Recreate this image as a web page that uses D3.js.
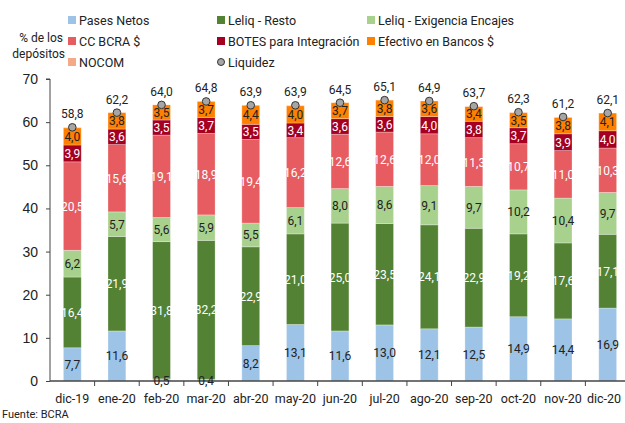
<!DOCTYPE html>
<html>
<head>
<meta charset="utf-8">
<script src="https://cdn.jsdelivr.net/npm/d3@7"></script>
<style>
  body { margin: 0; background: #fff; }
  svg { font-family: Roboto, "Noto Sans", sans-serif; }
</style>
</head>
<body>
<svg id="chart" width="625" height="423"></svg>
<script>
const months = ["dic-19","ene-20","feb-20","mar-20","abr-20","may-20","jun-20","jul-20","ago-20","sep-20","oct-20","nov-20","dic-20"];
const pases      = [7.7, 11.6, 0.5, 0.4, 8.2, 13.1, 11.6, 13.0, 12.1, 12.5, 14.9, 14.4, 16.9];
const leliqResto = [16.4, 21.9, 31.8, 32.2, 22.9, 21.0, 25.0, 23.5, 24.1, 22.9, 19.2, 17.6, 17.1];
const leliqEnc   = [6.2, 5.7, 5.6, 5.9, 5.5, 6.1, 8.0, 8.6, 9.1, 9.7, 10.2, 10.4, 9.7];
const ccBcra     = [20.5, 15.6, 19.1, 18.9, 19.4, 16.2, 12.6, 12.6, 12.0, 11.3, 10.7, 11.0, 10.3];
const botes      = [3.9, 3.6, 3.5, 3.7, 3.5, 3.4, 3.6, 3.6, 4.0, 3.8, 3.7, 3.9, 4.0];
const efectivo   = [4.0, 3.8, 3.5, 3.7, 4.4, 4.0, 3.7, 3.8, 3.6, 3.4, 3.5, 3.8, 4.1];
const nocom      = [0.1, 0.0, 0.0, 0.0, 0.0, 0.1, 0.0, 0.0, 0.0, 0.1, 0.1, 0.1, 0.0];
const liquidez   = [58.8, 62.2, 64.0, 64.8, 63.9, 63.9, 64.5, 65.1, 64.9, 63.7, 62.3, 61.2, 62.1];
const yTicks = [0, 10, 20, 30, 40, 50, 60, 70];

const series = [
  { key: "pases", name: "Pases Netos", values: pases, color: "#9dc3e6", text: "#222", label: true },
  { key: "resto", name: "Leliq - Resto", values: leliqResto, color: "#548235", text: "#fff", label: true },
  { key: "enc", name: "Leliq - Exigencia Encajes", values: leliqEnc, color: "#a9d18e", text: "#222", label: true },
  { key: "cc", name: "CC BCRA $", values: ccBcra, color: "#e65c60", text: "#fff", label: true },
  { key: "botes", name: "BOTES para Integración", values: botes, color: "#a50021", text: "#fff", label: true },
  { key: "efec", name: "Efectivo en Bancos $", values: efectivo, color: "#ff8000", text: "#222", label: true },
  { key: "nocom", name: "NOCOM", values: nocom, color: "#f4a989", text: "#222", label: false }
];

const rows = months.map((m, i) => {
  const r = { month: m };
  series.forEach(s => r[s.key] = s.values[i]);
  return r;
});
const stacked = d3.stack().keys(series.map(s => s.key))(rows);

const svg = d3.select("#chart");
const plotTop = 79, plotBottom = 381;

const x = d3.scaleBand().domain(months).range([50, 630]).paddingInner(0.6).paddingOuter(0.3);
const xStep = d3.scaleBand().domain(months).range([50, 630]);
const y = d3.scaleLinear().domain([0, 70]).range([plotBottom, plotTop]);

// bars
const g = svg.append("g");
stacked.forEach((layer, si) => {
  const s = series[si];
  g.selectAll(null).data(layer).enter().append("rect")
    .attr("x", d => x(d.data.month))
    .attr("width", x.bandwidth())
    .attr("y", d => y(d[1]))
    .attr("height", d => Math.max(0, y(d[0]) - y(d[1])))
    .attr("fill", s.color)
    .attr("stroke", "#fff")
    .attr("stroke-opacity", 0.35)
    .attr("stroke-width", 0.8);
});

// axes
const yAxis = svg.append("g").attr("transform", "translate(50,0)")
  .call(d3.axisLeft(y).tickValues(yTicks).tickSize(4).tickPadding(8));
yAxis.selectAll("text").attr("font-size", 14).attr("fill", "#222");
yAxis.selectAll("line, path").attr("stroke", "#444");
yAxis.select(".domain").attr("d", `M-4,${y(70)}H0V${plotBottom}`);

const xg = svg.append("g").attr("transform", `translate(0,${plotBottom})`);
xg.append("line").attr("x1", 50).attr("x2", 630).attr("stroke", "#444").attr("stroke-width", 1.5);
xg.selectAll(".tk").data(months.slice(1)).enter().append("line")
  .attr("x1", d => xStep(d)).attr("x2", d => xStep(d))
  .attr("y1", 0).attr("y2", 5).attr("stroke", "#444");
xg.selectAll(".lb").data(months).enter().append("text")
  .attr("x", d => Math.min(xStep(d) + xStep.bandwidth() / 2, 604))
  .attr("y", 22)
  .attr("text-anchor", "middle")
  .attr("font-size", 12.5)
  .attr("fill", "#222")
  .text(d => d);

// segment labels
const fmt = v => d3.format(".1f")(v).replace(".", ",");
stacked.forEach((layer, si) => {
  const s = series[si];
  if (!s.label) return;
  svg.append("g").selectAll("text").data(layer).enter().append("text")
    .attr("x", d => x(d.data.month) + x.bandwidth() / 2)
    .attr("y", d => {
      const h = y(d[0]) - y(d[1]);
      return h < 8 ? plotBottom + 4 : (y(d[0]) + y(d[1])) / 2 + 4.5;
    })
    .attr("text-anchor", "middle")
    .attr("font-size", 12)
    .attr("fill", d => (y(d[0]) - y(d[1]) < 8 ? "#222" : s.text))
    .text(d => fmt(d[1] - d[0]));
});

// liquidez markers
const lq = svg.append("g");
lq.selectAll("circle").data(liquidez).enter().append("circle")
  .attr("cx", (d, i) => x(months[i]) + x.bandwidth() / 2)
  .attr("cy", d => y(d))
  .attr("r", 3.8)
  .attr("fill", "#a6a6a6")
  .attr("stroke", "#333")
  .attr("stroke-width", 1);
lq.selectAll("text").data(liquidez).enter().append("text")
  .attr("x", (d, i) => x(months[i]) + x.bandwidth() / 2)
  .attr("y", d => y(d) - 9)
  .attr("text-anchor", "middle")
  .attr("font-size", 12)
  .attr("fill", "#222")
  .text(d => fmt(d));

// y title
svg.append("text").attr("x", 63).attr("y", 42).attr("text-anchor", "end")
  .attr("font-size", 12).attr("fill", "#222").text("% de los");
svg.append("text").attr("x", 65).attr("y", 58).attr("text-anchor", "end")
  .attr("font-size", 12).attr("fill", "#222").text("depósitos");

// legend
const legendItems = [
  { name: "Pases Netos", color: "#9dc3e6", col: 0, row: 0 },
  { name: "Leliq - Resto", color: "#548235", col: 1, row: 0 },
  { name: "Leliq - Exigencia Encajes", color: "#a9d18e", col: 2, row: 0 },
  { name: "CC BCRA $", color: "#e65c60", col: 0, row: 1 },
  { name: "BOTES para Integración", color: "#a50021", col: 1, row: 1 },
  { name: "Efectivo en Bancos $", color: "#ff8000", col: 2, row: 1 },
  { name: "NOCOM", color: "#f4a989", col: 0, row: 2 },
  { name: "Liquidez", color: null, col: 1, row: 2 }
];
const colX = [68, 217, 367];
const rowY = [20, 41, 62];
const lg = svg.append("g").selectAll("g").data(legendItems).enter().append("g")
  .attr("transform", d => `translate(${colX[d.col]},${rowY[d.row]})`);
lg.each(function (d) {
  const el = d3.select(this);
  if (d.color) {
    el.append("rect").attr("x", 0).attr("y", -4).attr("width", 8).attr("height", 8).attr("fill", d.color);
  } else {
    el.append("circle").attr("cx", 4).attr("cy", 0).attr("r", 3.5)
      .attr("fill", "#a6a6a6").attr("stroke", "#333");
  }
  el.append("text").attr("x", 11).attr("y", 5).attr("font-size", 12.5).attr("fill", "#222").text(d.name);
});

svg.append("text").attr("x", 2).attr("y", 418).attr("font-size", 11).attr("fill", "#222").text("Fuente: BCRA");
</script>
</body>
</html>
